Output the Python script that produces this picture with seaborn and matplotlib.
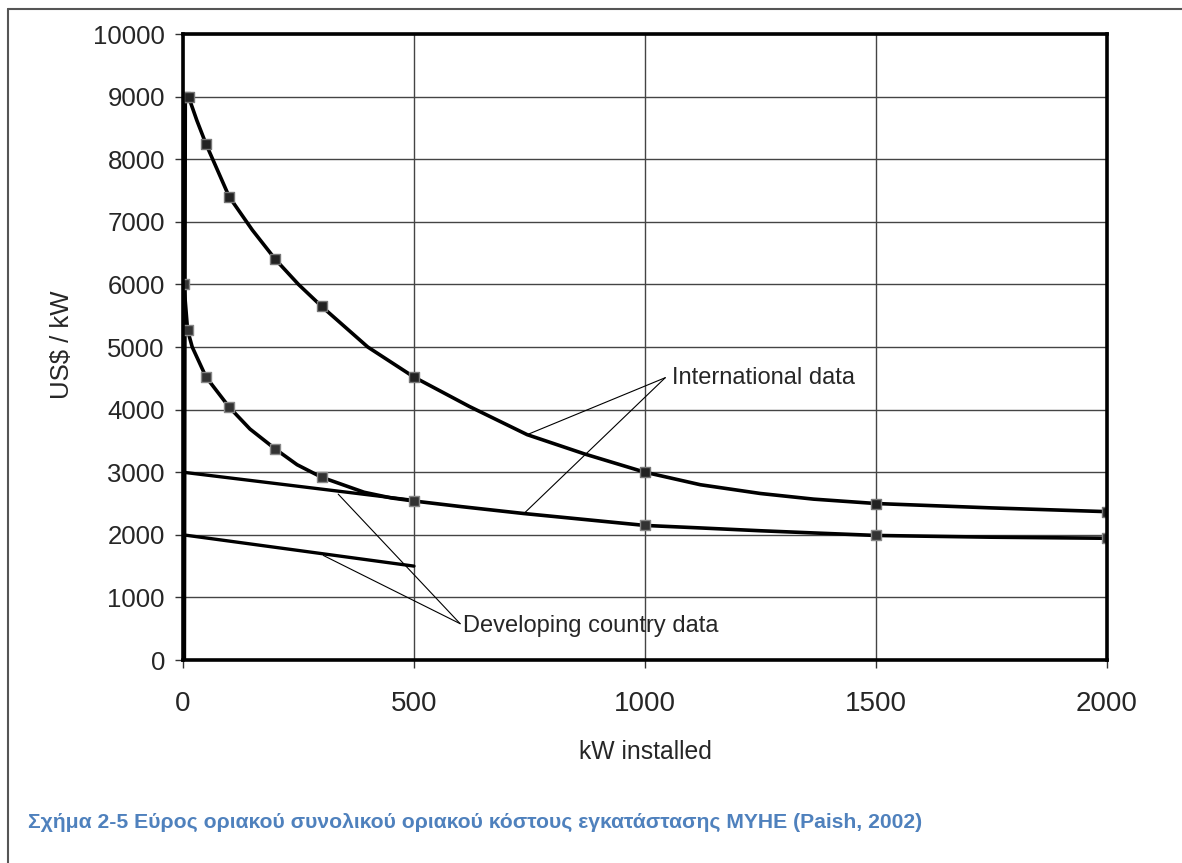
import numpy as np
import pandas as pd
import seaborn as sns
import matplotlib.pyplot as plt
from matplotlib.lines import Line2D

# ======================
# data
# ======================
# upper "International data" curve (line path)
upper_x = [3, 5, 12, 30, 50, 100, 150, 200, 250, 300, 400, 500, 620, 745, 870, 1000, 1120, 1250, 1365, 1500, 1750, 2000]
upper_y = [0, 9000, 9000, 8620, 8240, 7400, 6870, 6400, 6000, 5650, 5000, 4520, 4050, 3600, 3290, 3000, 2800, 2660, 2570, 2500, 2430, 2370]
# markers on the upper curve
upper_mx = [5, 12, 50, 100, 200, 300, 500, 1000, 1500, 2000]
upper_my = [9000, 9000, 8240, 7400, 6400, 5650, 4520, 3000, 2500, 2370]

# lower "International data" curve
lower_x = [2, 10, 20, 50, 100, 145, 200, 247, 300, 392, 450, 500, 603, 738, 1000, 1120, 1250, 1365, 1500, 1750, 2000]
lower_y = [6000, 5270, 5000, 4520, 4040, 3690, 3370, 3120, 2920, 2680, 2590, 2540, 2450, 2340, 2150, 2110, 2065, 2030, 1990, 1962, 1945]
lower_mx = [2, 10, 50, 100, 200, 300, 500, 1000, 1500, 2000]
lower_my = [6000, 5270, 4520, 4040, 3370, 2920, 2540, 2150, 1990, 1945]

# "Developing country data" straight lines
dev_a_x = [0, 500]
dev_a_y = [3000, 2550]
dev_b_x = [0, 500]
dev_b_y = [2000, 1500]

x_ticks = [0, 500, 1000, 1500, 2000]
y_ticks = [0, 1000, 2000, 3000, 4000, 5000, 6000, 7000, 8000, 9000, 10000]

caption = "Σχήμα 2-5 Εύρος οριακού συνολικού οριακού κόστους εγκατάστασης ΜΥΗΕ (Paish, 2002)"

# ======================
# style
# ======================
sns.set_theme(style="white")
plt.rcParams['font.family'] = ['Liberation Sans', 'DejaVu Sans']

fig = plt.figure(figsize=(11.82, 8.63), dpi=100)
ax = fig.add_axes([0.1548, 0.2352, 0.7817, 0.7254])

# grid
for xv in x_ticks:
    ax.axvline(xv, color='#444444', lw=1.0, zorder=1)
for yv in y_ticks:
    ax.axhline(yv, color='#444444', lw=1.0, zorder=1)

# curves
sns.lineplot(x=upper_x, y=upper_y, color='black', lw=2.6, sort=False,
             estimator=None, ax=ax, zorder=3)
sns.lineplot(x=lower_x, y=lower_y, color='black', lw=2.6, sort=False,
             estimator=None, ax=ax, zorder=3)
sns.lineplot(x=dev_a_x, y=dev_a_y, color='black', lw=2.4, estimator=None, ax=ax, zorder=3)
sns.lineplot(x=dev_b_x, y=dev_b_y, color='black', lw=2.4, estimator=None, ax=ax, zorder=3)

# markers
sns.scatterplot(x=upper_mx, y=upper_my, marker='s', s=45, color='#222222',
                edgecolor='#777777', linewidth=1.0, ax=ax, zorder=4)
sns.scatterplot(x=lower_mx, y=lower_my, marker='s', s=45, color='#333333',
                edgecolor='#888888', linewidth=1.0, ax=ax, zorder=4)

# ======================
# annotations (leader lines)
# ======================
intl_anchor = (1044, 4510)
for tx, ty in [(745, 3600), (738, 2340)]:
    ax.plot([intl_anchor[0], tx], [intl_anchor[1], ty], color='black', lw=0.8, zorder=3)
ax.text(1058, 4500, "International data", fontsize=17, ha='left', va='center', zorder=5)

dev_anchor = (600, 580)
for tx, ty in [(336, 2650), (304, 1670)]:
    ax.plot([dev_anchor[0], tx], [dev_anchor[1], ty], color='black', lw=0.8, zorder=3)
ax.text(606, 540, "Developing country data", fontsize=17, ha='left', va='center', zorder=5)

# ======================
# axes
# ======================
ax.set_xlim(0, 2000)
ax.set_ylim(0, 10000)
ax.set_xticks(x_ticks)
ax.set_yticks(y_ticks)
ax.tick_params(axis='both', which='both', direction='out', length=6, width=1,
               color='#333333', bottom=True, left=True)
ax.tick_params(axis='x', pad=16, labelsize=20)
ax.tick_params(axis='y', pad=7, labelsize=18.5)
for sp in ax.spines.values():
    sp.set_linewidth(2.6)
    sp.set_color('black')
    sp.set_zorder(6)

ax.set_xlabel("kW installed", fontsize=17.8)
ax.set_ylabel("US$ / kW", fontsize=18.5)
ax.xaxis.set_label_coords(0.5, -0.128)
ax.yaxis.set_label_coords(-0.118, 0.503)

# caption and page frame
fig.text(28 / 1182, 1 - 822 / 863, caption, color='#4F81BD', fontsize=15.2,
         fontweight='bold', ha='left', va='center')
fig.add_artist(Line2D([8 / 1182, 8 / 1182], [0, 1 - 9 / 863], color='#555555', lw=1.5))
fig.add_artist(Line2D([8 / 1182, 1], [1 - 9 / 863, 1 - 9 / 863], color='#555555', lw=1.5))

fig.savefig("out.png", dpi=100, facecolor='white')
